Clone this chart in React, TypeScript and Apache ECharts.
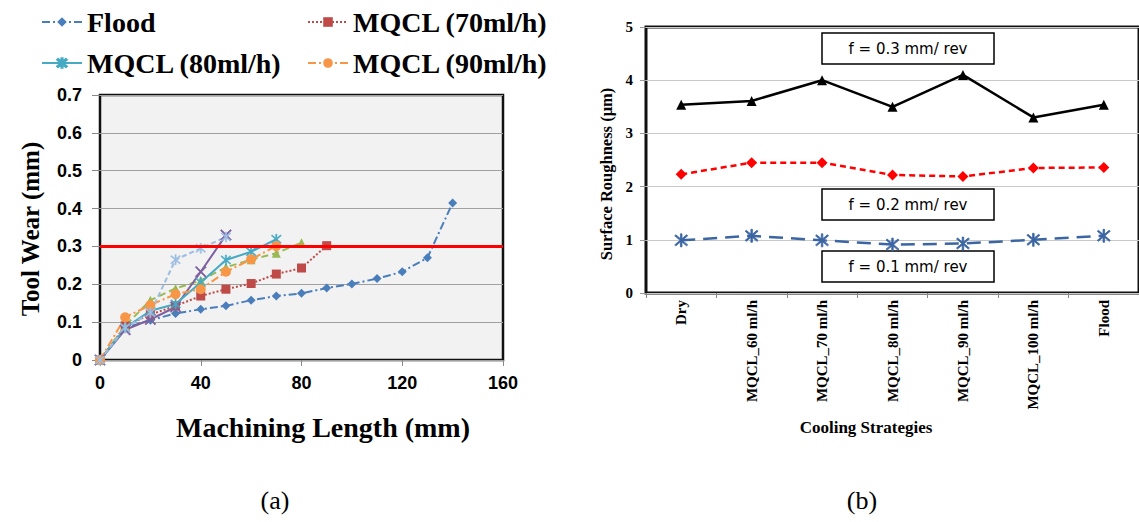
import React, { useEffect, useRef } from "react";
import * as echarts from "echarts";

// ---- (a) Tool wear vs machining length ----
const floodLen = [0, 10, 20, 30, 40, 50, 60, 70, 80, 90, 100, 110, 120, 130, 140];
const floodWear = [0, 0.085, 0.105, 0.123, 0.134, 0.143, 0.158, 0.169, 0.176, 0.19, 0.201, 0.215, 0.233, 0.27, 0.415];

const mq70Len = [0, 10, 20, 30, 40, 50, 60, 70, 80, 90];
const mq70Wear = [0, 0.09, 0.12, 0.143, 0.169, 0.187, 0.202, 0.227, 0.243, 0.302];

const mq60Len = [0, 10, 20, 30, 40, 50, 60, 70, 80];
const mq60Wear = [0, 0.09, 0.158, 0.189, 0.21, 0.245, 0.265, 0.282, 0.31];

const dryLen = [0, 10, 20, 30, 40, 50];
const dryWear = [0, 0.08, 0.107, 0.14, 0.233, 0.33];

const mq80Len = [0, 10, 20, 30, 40, 50, 60, 70];
const mq80Wear = [0, 0.085, 0.13, 0.148, 0.205, 0.264, 0.286, 0.319];

const mq90Len = [0, 10, 20, 30, 40, 50, 60, 70];
const mq90Wear = [0, 0.113, 0.145, 0.174, 0.187, 0.233, 0.266, 0.301];

const mq100Len = [0, 10, 20, 30, 40, 50];
const mq100Wear = [0, 0.085, 0.125, 0.265, 0.295, 0.325];

const wearLimit = 0.303;
const lengthTicks = [0, 40, 80, 120, 160];

// ---- (b) Surface roughness vs cooling strategy ----
const strategies = ["Dry", "MQCL_60 ml/h", "MQCL_70 ml/h", "MQCL_80 ml/h", "MQCL_90 ml/h", "MQCL_100 ml/h", "Flood"];
const ra03 = [3.54, 3.61, 4.0, 3.5, 4.1, 3.3, 3.54];
const ra02 = [2.23, 2.45, 2.45, 2.22, 2.19, 2.35, 2.36];
const ra01 = [0.99, 1.075, 0.99, 0.91, 0.93, 1.0, 1.075];
const feedLabels = ["f = 0.3 mm/ rev", "f = 0.2 mm/ rev", "f = 0.1 mm/ rev"];

// marker shapes (six-arm star and cross)
const STAR =
  "path://M9,0L11,0L11,20L9,20Z M1.5,3L3,1.5L18.5,17L17,18.5Z M17,1.5L18.5,3L3,18.5L1.5,17Z";
const CROSS = "path://M1.5,3L3,1.5L18.5,17L17,18.5Z M17,1.5L18.5,3L3,18.5L1.5,17Z";

const zip = (xs: number[], ys: number[]) => xs.map((x, i) => [x, ys[i]]);

const SERIF = "Liberation Serif";
const SANS = "Liberation Sans";

function wearSeries(
  name: string,
  xs: number[],
  ys: number[],
  color: string,
  lineType: any,
  symbol: string,
  symbolSize: number,
  extra: any = {}
) {
  return {
    name,
    type: "line",
    xAxisIndex: 0,
    yAxisIndex: 0,
    data: zip(xs, ys),
    symbol,
    symbolSize,
    showSymbol: true,
    itemStyle: { color, borderColor: color, borderWidth: symbol.startsWith("path") ? 0.6 : 0 },
    lineStyle: { color, width: 2, type: lineType },
    emphasis: { disabled: true },
    ...extra,
  };
}

function legendAt(name: string, left: number, top: number) {
  return {
    data: [name],
    left,
    top,
    itemWidth: 40,
    itemHeight: 12,
    itemGap: 4,
    textStyle: { fontFamily: SERIF, fontWeight: "bold", fontSize: 28, color: "#000" },
    selectedMode: false,
  };
}

export default function App() {
  const ref = useRef<HTMLDivElement>(null);

  useEffect(() => {
    if (!ref.current) return;
    const chart = echarts.init(ref.current, undefined, { renderer: "svg" });

    const boxTops = [33, 189, 251];

    const option: any = {
      animation: false,
      backgroundColor: "#fff",
      legend: [
        legendAt("Flood", 36, 3),
        legendAt("MQCL (70ml/h)", 302, 3),
        legendAt("MQCL (80ml/h)", 36, 44),
        legendAt("MQCL (90ml/h)", 302, 44),
      ],
      grid: [
        {
          left: 100,
          top: 95,
          width: 403,
          height: 265,
          show: true,
          backgroundColor: "#F2F2F2",
          borderColor: "#111",
          borderWidth: 2.5,
        },
        {
          left: 646,
          top: 27,
          width: 494,
          height: 266,
          show: true,
          backgroundColor: "#fff",
          borderColor: "#111",
          borderWidth: 3,
        },
      ],
      xAxis: [
        {
          gridIndex: 0,
          type: "value",
          min: 0,
          max: 160,
          interval: 40,
          axisLine: { show: false },
          axisTick: { show: true, length: 6, lineStyle: { color: "#888" } },
          splitLine: { show: false },
          axisLabel: {
            margin: 14,
            fontFamily: SANS,
            fontWeight: "bold",
            fontSize: 18,
            color: "#000",
            formatter: (v: number) => (lengthTicks.includes(v) ? String(v) : ""),
          },
        },
        {
          gridIndex: 1,
          type: "category",
          data: strategies,
          boundaryGap: true,
          axisLine: { show: false },
          axisTick: { show: true, length: 5, lineStyle: { color: "#888" } },
          axisLabel: {
            rotate: 90,
            margin: 7,
            interval: 0,
            fontFamily: SERIF,
            fontWeight: "bold",
            fontSize: 15,
            color: "#000",
          },
        },
      ],
      yAxis: [
        {
          gridIndex: 0,
          type: "value",
          min: 0,
          max: 0.7,
          interval: 0.1,
          axisLine: { show: false },
          axisTick: { show: true, length: 8, lineStyle: { color: "#888" } },
          splitLine: { show: true, lineStyle: { color: "#A0A0A0", width: 1 } },
          axisLabel: {
            margin: 18,
            fontFamily: SANS,
            fontWeight: "bold",
            fontSize: 18,
            color: "#000",
            formatter: (v: number) => (v === 0 ? "0" : v.toFixed(1)),
          },
        },
        {
          gridIndex: 1,
          type: "value",
          min: 0,
          max: 5,
          interval: 1,
          axisLine: { show: false },
          axisTick: { show: true, length: 6, lineStyle: { color: "#999" } },
          splitLine: { show: true, lineStyle: { color: "#C8C8C8", width: 1 } },
          axisLabel: {
            margin: 13,
            fontFamily: SERIF,
            fontWeight: "bold",
            fontSize: 15,
            color: "#000",
          },
        },
      ],
      series: [
        wearSeries("Flood", floodLen, floodWear, "#4A7EBB", [8, 3, 2, 3], "diamond", 9, {
          markLine: {
            silent: true,
            symbol: ["none", "none"],
            label: { show: false },
            lineStyle: { color: "#FF0000", width: 3, type: "solid" },
            data: [{ yAxis: wearLimit }],
          },
        }),
        wearSeries("MQCL (70ml/h)", mq70Len, mq70Wear, "#BE4B48", [2, 2], "rect", 9),
        wearSeries("MQCL (60ml/h)", mq60Len, mq60Wear, "#98B954", [7, 4], "triangle", 9),
        wearSeries("Dry", dryLen, dryWear, "#7D60A0", "solid", CROSS, 11),
        wearSeries("MQCL (80ml/h)", mq80Len, mq80Wear, "#46AAC5", "solid", STAR, 10),
        wearSeries("MQCL (90ml/h)", mq90Len, mq90Wear, "#F79646", [8, 3, 2, 3], "circle", 10),
        wearSeries("MQCL (100ml/h)", mq100Len, mq100Wear, "#9DBDE3", [5, 3], STAR, 10),
        {
          name: feedLabels[0],
          type: "line",
          xAxisIndex: 1,
          yAxisIndex: 1,
          data: ra03,
          symbol: "triangle",
          symbolSize: 10,
          itemStyle: { color: "#000" },
          lineStyle: { color: "#000", width: 2.5, type: "solid" },
          emphasis: { disabled: true },
        },
        {
          name: feedLabels[1],
          type: "line",
          xAxisIndex: 1,
          yAxisIndex: 1,
          data: ra02,
          symbol: "diamond",
          symbolSize: 11,
          itemStyle: { color: "#FF0000" },
          lineStyle: { color: "#FF0000", width: 2.5, type: [6, 4] },
          emphasis: { disabled: true },
        },
        {
          name: feedLabels[2],
          type: "line",
          xAxisIndex: 1,
          yAxisIndex: 1,
          data: ra01,
          symbol: STAR,
          symbolSize: 13,
          itemStyle: { color: "#3B66A3", borderColor: "#3B66A3", borderWidth: 0.8 },
          lineStyle: { color: "#3B66A3", width: 2.5, type: [14, 8] },
          emphasis: { disabled: true },
        },
      ],
      graphic: [
        {
          type: "text",
          x: 30,
          y: 229,
          rotation: Math.PI / 2,
          style: {
            text: "Tool Wear (mm)",
            font: `bold 25px "${SERIF}"`,
            fill: "#000",
            align: "center",
            verticalAlign: "middle",
          },
        },
        {
          type: "text",
          x: 323,
          y: 427,
          style: {
            text: "Machining Length (mm)",
            font: `bold 28px "${SERIF}"`,
            fill: "#000",
            align: "center",
            verticalAlign: "middle",
          },
        },
        {
          type: "text",
          x: 606,
          y: 174,
          rotation: Math.PI / 2,
          style: {
            text: "Surface Roughness (μm)",
            font: `bold 16.5px "${SERIF}"`,
            fill: "#000",
            align: "center",
            verticalAlign: "middle",
          },
        },
        {
          type: "text",
          x: 866,
          y: 427,
          style: {
            text: "Cooling Strategies",
            font: `bold 17px "${SERIF}"`,
            fill: "#000",
            align: "center",
            verticalAlign: "middle",
          },
        },
        {
          type: "text",
          x: 275,
          y: 500,
          style: {
            text: "(a)",
            font: `26px "${SERIF}"`,
            fill: "#000",
            align: "center",
            verticalAlign: "middle",
          },
        },
        {
          type: "text",
          x: 862,
          y: 500,
          style: {
            text: "(b)",
            font: `26px "${SERIF}"`,
            fill: "#000",
            align: "center",
            verticalAlign: "middle",
          },
        },
        ...feedLabels.map((t, i) => ({
          type: "group",
          x: 822,
          y: boxTops[i],
          children: [
            {
              type: "rect",
              shape: { x: 0, y: 0, width: 172, height: 31 },
              style: { fill: "#fff", stroke: "#000", lineWidth: 1.5 },
            },
            {
              type: "text",
              x: 86,
              y: 16,
              style: {
                text: t,
                font: `15px "DejaVu Sans"`,
                fill: "#000",
                align: "center",
                verticalAlign: "middle",
              },
            },
          ],
        })),
      ],
    };

    chart.setOption(option);
    return () => chart.dispose();
  }, []);

  return (
    <div
      ref={ref}
      style={{ position: "absolute", left: 0, top: 0, width: 1139, height: 522 }}
    />
  );
}
